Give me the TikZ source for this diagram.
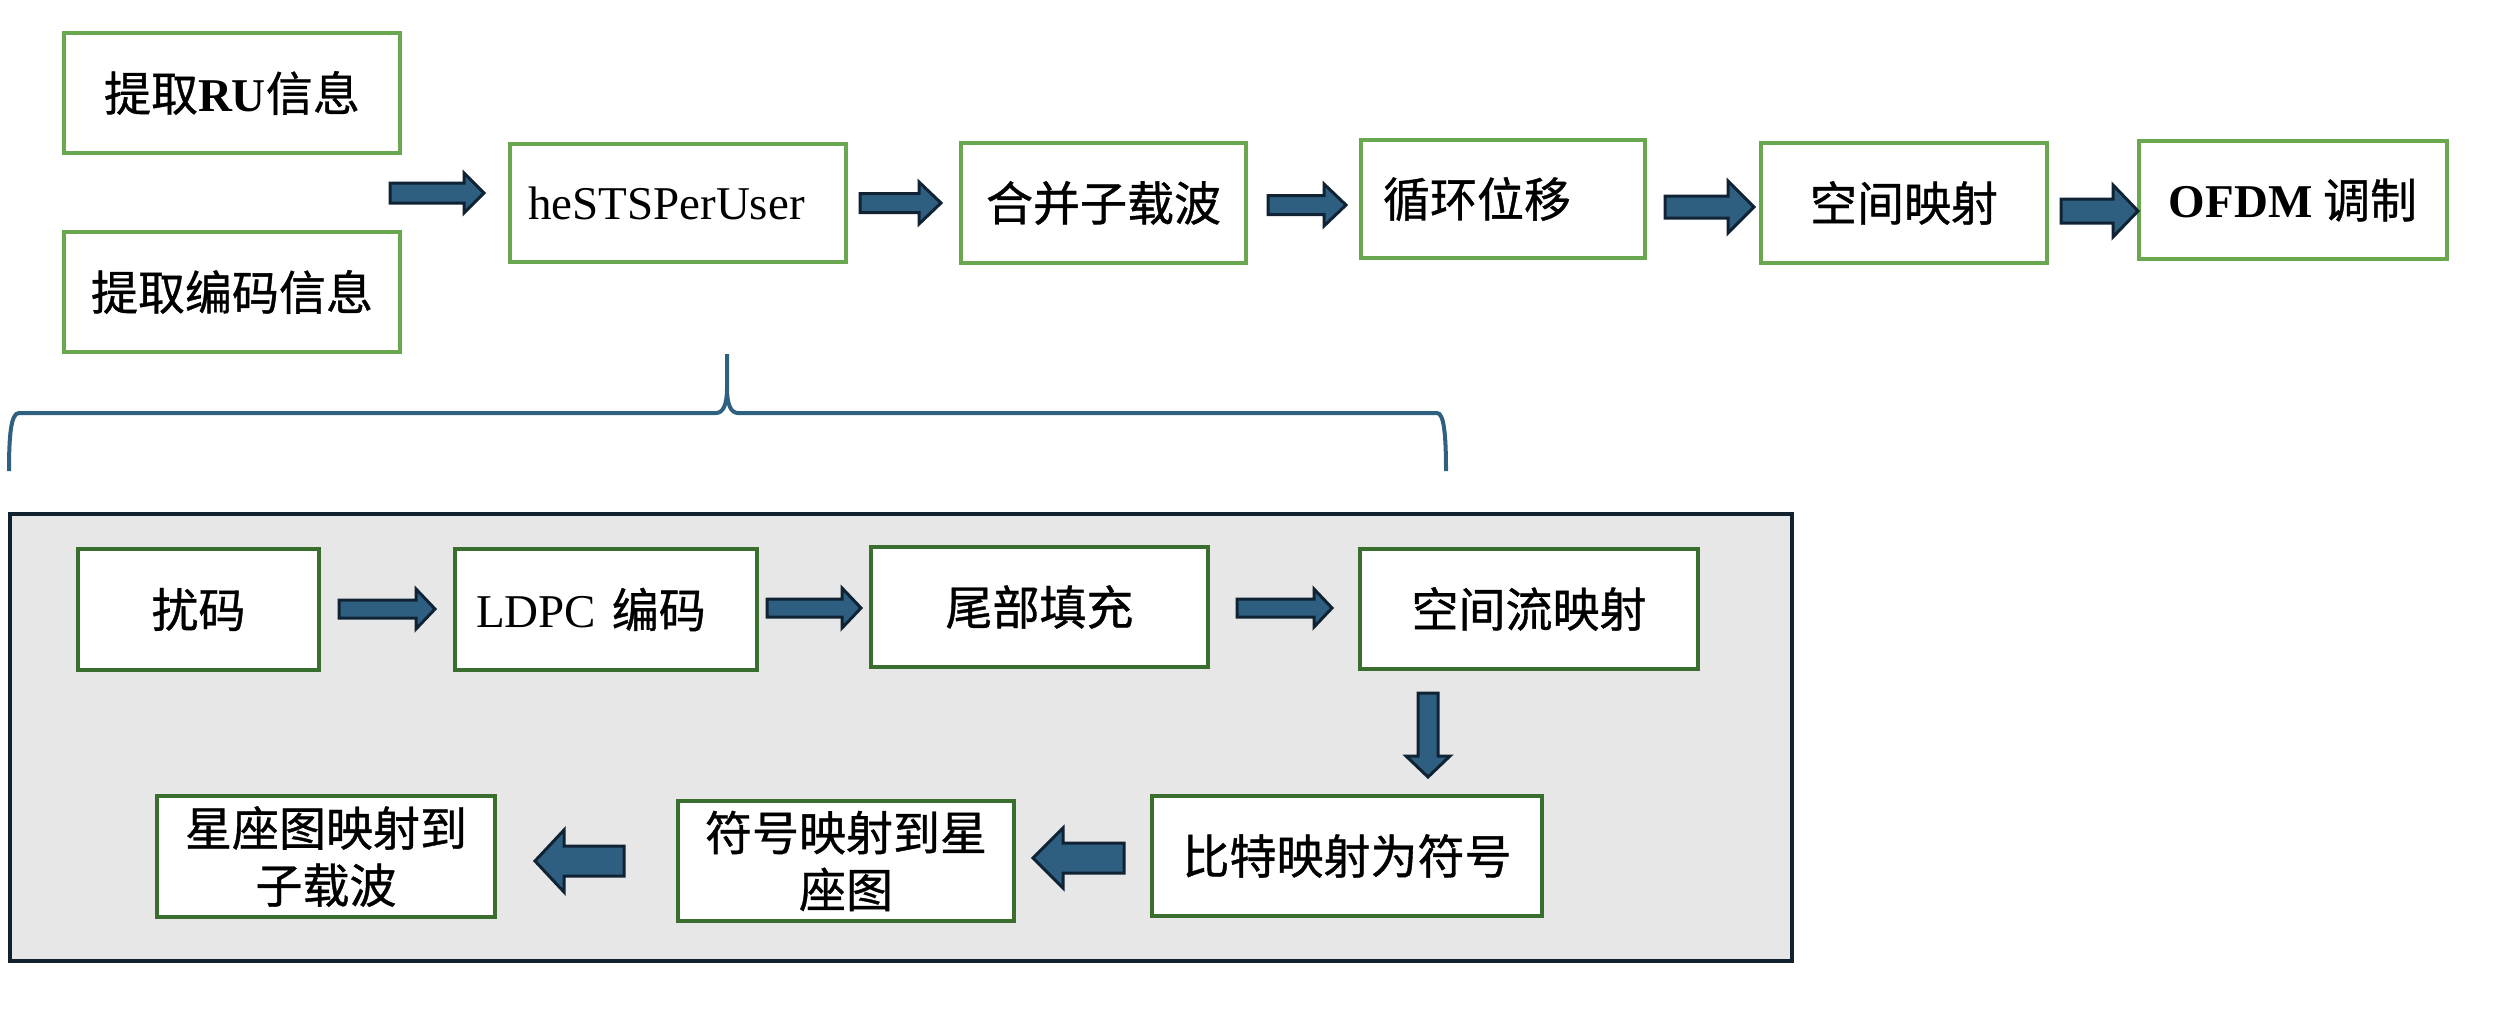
\documentclass[tikz,border=0pt]{standalone}
\usepackage{fontspec}
\setmainfont{Liberation Serif}
\newfontfamily\cjk[FakeBold=0.8]{Noto Sans CJK SC}
\newfontfamily\lat{Liberation Serif}

\definecolor{topgreen}{HTML}{6AA84F}
\definecolor{innergreen}{HTML}{3A6E2E}
\definecolor{arrowfill}{HTML}{2F5F80}
\definecolor{arrowedge}{HTML}{0F2334}
\definecolor{panelfill}{HTML}{E7E7E7}
\definecolor{paneledge}{HTML}{13222F}
\definecolor{bracecol}{HTML}{2E6080}

% block arrow along x: tail x, tip x, y, half shaft, half head, head length (signed)
\newcommand\blockx[6]{%
  \draw[blk] (#1,#3-#4) -- (#2-#6,#3-#4) -- (#2-#6,#3-#5) -- (#2,#3)
    -- (#2-#6,#3+#5) -- (#2-#6,#3+#4) -- (#1,#3+#4) -- cycle;}
% block arrow along y: x, tail y, tip y, half shaft, half head, head length
\newcommand\blocky[6]{%
  \draw[blk] (#1-#4,#2) -- (#1-#4,#3-#6) -- (#1-#5,#3-#6) -- (#1,#3)
    -- (#1+#5,#3-#6) -- (#1+#4,#3-#6) -- (#1+#4,#2) -- cycle;}

\begin{document}
\begin{tikzpicture}[x=1pt,y=-1pt,
  txt/.style={font=\cjk\fontsize{47}{57}\selectfont},
  topbox/.style={draw=topgreen, line width=4pt, fill=white, inner sep=0pt, txt, align=center},
  innerbox/.style={draw=innergreen, line width=4.5pt, fill=white, inner sep=0pt, txt, align=center},
  blk/.style={fill=arrowfill, draw=arrowedge, line width=3pt, line join=miter},
  brace/.style={draw=bracecol, line width=4pt},
]
\useasboundingbox (0,0) rectangle (2496,1026);

% ---- upper chain ----
\node[topbox, minimum width=336pt, minimum height=120pt] (ru) at (232,93) {提取{\lat\bfseries RU}信息};
\node[topbox, minimum width=336pt, minimum height=120pt] (enc) at (232,292) {提取编码信息};
\node[topbox, minimum width=336pt, minimum height=118pt, inner xsep=18pt, text width=300pt, align=left] (hes) at (678,203) {{\lat heSTSPerUser}};
\node[topbox, minimum width=285pt, minimum height=120pt] (merge) at (1103.5,203) {合并子载波};
\node[topbox, minimum width=284pt, minimum height=118pt, inner xsep=22pt, text width=240pt, align=left] (cyc) at (1503,199) {循环位移};
\node[topbox, minimum width=286pt, minimum height=120pt] (spmap) at (1904,203) {空间映射};
\node[topbox, minimum width=308pt, minimum height=118pt] (ofdm) at (2293,200) {{\lat\bfseries OFDM} 调制};

\blockx{390}{484}{193}{10}{20}{20}
\blockx{860}{941}{203}{9.5}{21}{22}
\blockx{1268}{1346}{205}{9.5}{21}{22}
\blockx{1665}{1754}{207}{11}{26}{26}
\blockx{2061}{2138}{211}{12}{26}{25}

% ---- brace under heSTSPerUser ----
\draw[brace] (9,471) .. controls (9,435) and (11,413) .. (19,413) -- (716,413)
  .. controls (723,413) and (727,405) .. (727,388) -- (727,354) -- (727,388)
  .. controls (727,405) and (731,413) .. (738,413) -- (1437,413)
  .. controls (1444,413) and (1446,435) .. (1446,471);

% ---- expanded panel ----
\draw[fill=panelfill, draw=paneledge, line width=4.5pt] (10,514) rectangle (1792,961);

\node[innerbox, minimum width=241pt, minimum height=121pt] (scr) at (198.5,609.5) {扰码};
\node[innerbox, minimum width=302pt, minimum height=121pt, inner xsep=21pt, text width=260pt, align=left] (ldpc) at (606,609.5) {{\lat LDPC} 编码};
\node[innerbox, minimum width=337pt, minimum height=120pt] (tail) at (1039.5,607) {尾部填充};
\node[innerbox, minimum width=338pt, minimum height=120pt] (ssm) at (1529,609) {空间流映射};
\node[innerbox, minimum width=390pt, minimum height=120pt] (bit) at (1347,856) {比特映射为符号};
\node[innerbox, minimum width=336pt, minimum height=120pt, text width=300pt] (sym) at (846,861) {符号映射到星\\座图};
\node[innerbox, minimum width=338pt, minimum height=121pt, text width=300pt] (con) at (326,856.5) {星座图映射到\\子载波};

\blockx{339}{435}{609}{9}{20}{19}
\blockx{767}{861}{608}{9}{20}{19}
\blockx{1237}{1332}{608}{9}{19}{18}
\blocky{1428}{693}{777}{10}{22}{21}
\blockx{1124}{1033}{858}{15}{30}{-30}
\blockx{624}{535}{861}{15}{31}{-29}

\end{tikzpicture}
\end{document}
